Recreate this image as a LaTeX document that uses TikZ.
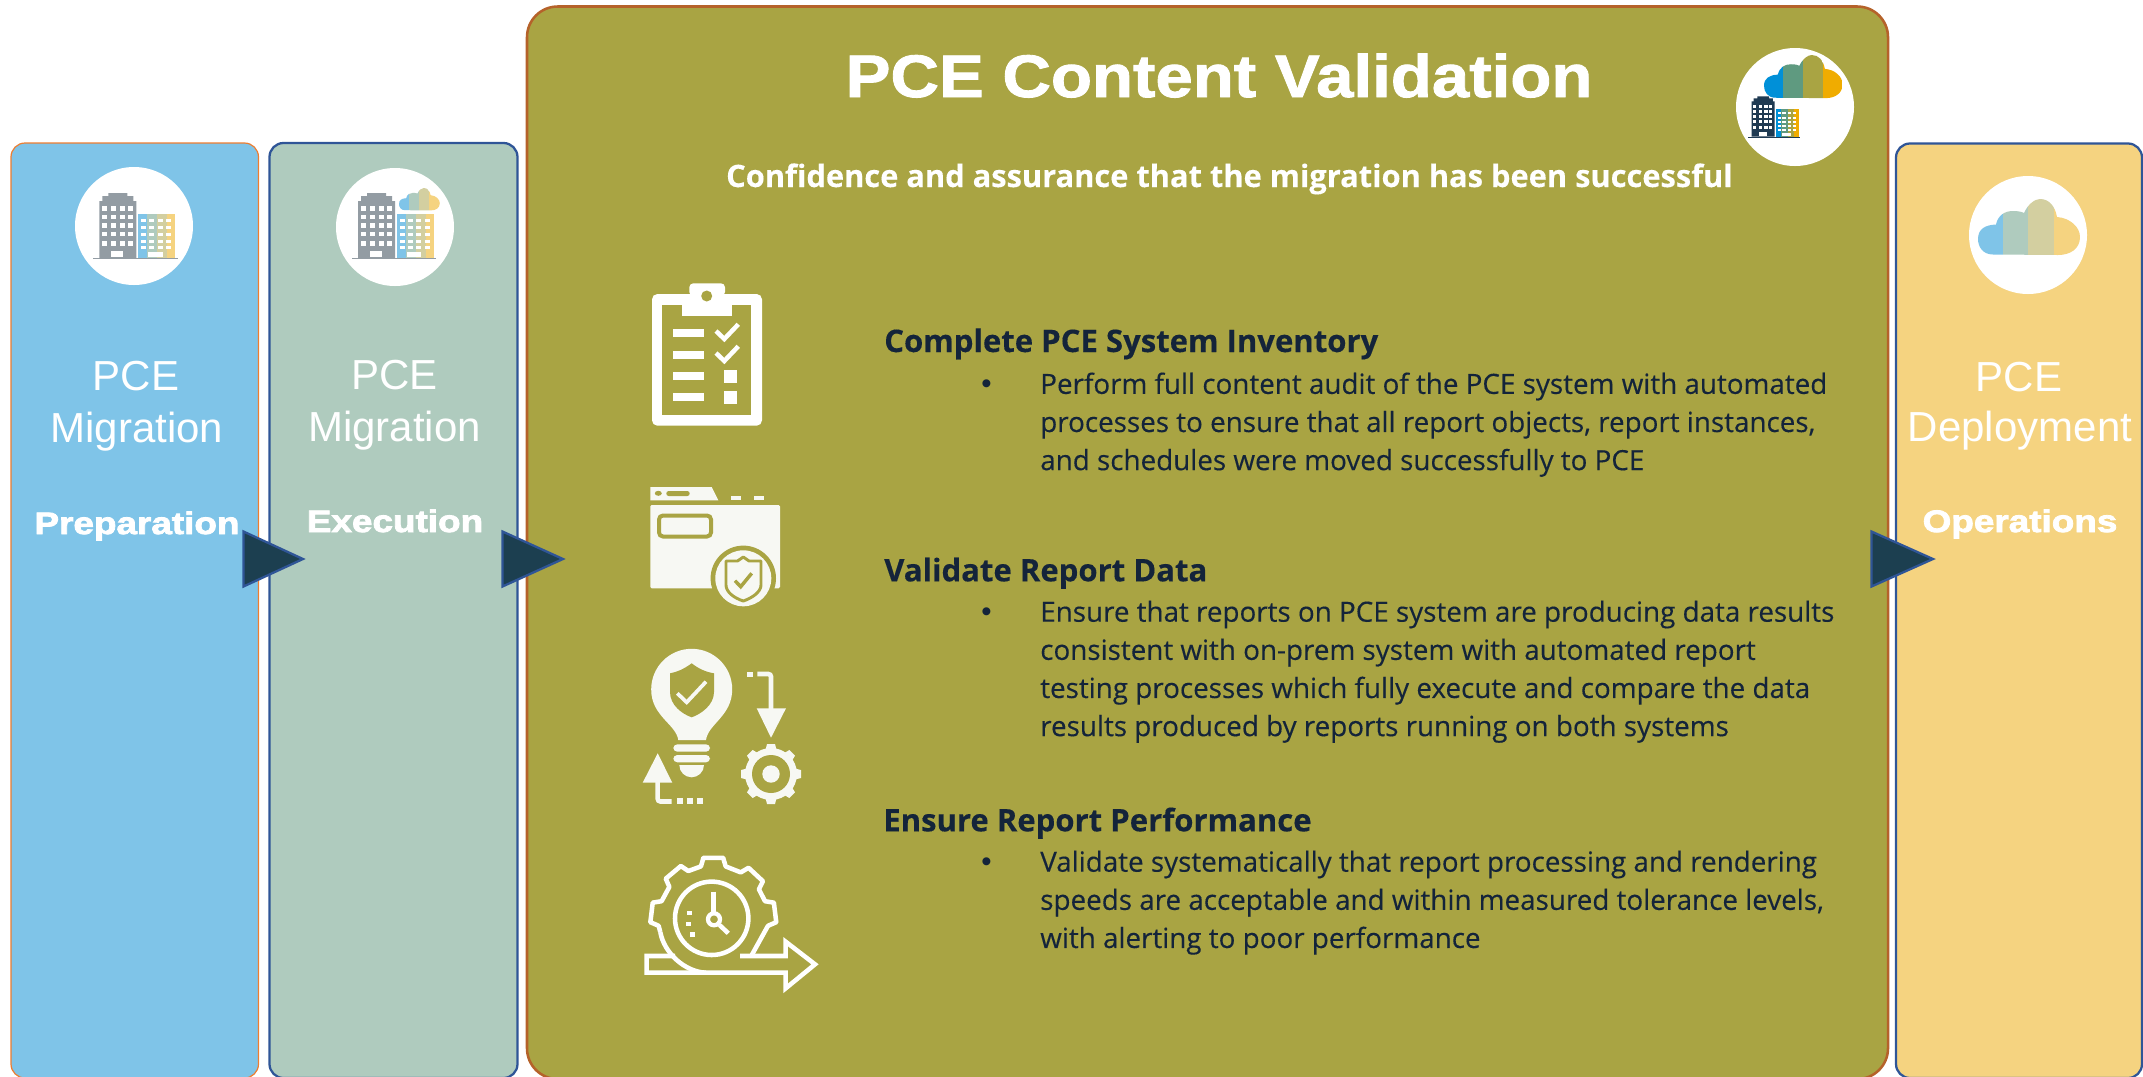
\documentclass[tikz,border=0pt]{standalone}
\usepackage{fontspec}
\usetikzlibrary{calc}
\setmainfont{Liberation Sans}
\newfontfamily\lblfont[BoldFeatures={FakeBold=2.6,FakeStretch=1.19}]{Liberation Sans}
\newfontfamily\ttlfont[BoldFeatures={FakeBold=1.5,FakeStretch=1.12}]{Liberation Sans}
\newfontfamily\bodyfont[FakeBold=0.25,BoldFeatures={FakeBold=0.25}]{Open Sans}
\definecolor{pblue}{HTML}{7FC4E8}
\definecolor{pgreen}{HTML}{AFCBBE}
\definecolor{polive}{HTML}{A9A443}
\definecolor{pyellow}{HTML}{F5D380}
\definecolor{pkhaki}{HTML}{D3CFA0}
\definecolor{lblue}{HTML}{2F5597}
\definecolor{lorange}{HTML}{ED7D31}
\definecolor{lrust}{HTML}{B5622A}
\definecolor{tricol}{HTML}{1C3F50}
\definecolor{navy}{HTML}{14243A}
\definecolor{bgray}{HTML}{939CA3}
\definecolor{bdark}{HTML}{1F3A52}
\definecolor{dblue}{HTML}{0090D8}
\definecolor{dgreen}{HTML}{5F9A80}
\definecolor{damber}{HTML}{F0AC00}
\definecolor{iconw}{HTML}{F7F8F3}
\tikzset{
  px/.style={x=0.75pt,y=-0.75pt},
  panel/.style={rounded corners=10.5pt},
  tri/.style={fill=tricol,draw=lblue,line width=1.7pt,line join=miter},
  disc/.style={fill=white,draw=none},
  pcetext/.style={text=white,inner sep=0pt,anchor=base,font=\fontsize{31.5}{38}\selectfont},
  lbltext/.style={text=white,inner sep=0pt,anchor=base,font=\lblfont\bfseries\fontsize{23.25}{28}\selectfont},
  headtext/.style={text=navy,inner sep=0pt,anchor=base west,font=\bodyfont\bfseries\fontsize{23.3}{28}\selectfont},
  bodytext/.style={text=navy,inner sep=0pt,anchor=north west,align=left,font=\bodyfont\fontsize{20.85}{28.6}\selectfont},
  bullettext/.style={text=navy,inner sep=0pt,anchor=base west,font=\fontsize{22}{28}\selectfont},
  iconline/.style={draw=white,line width=3.4pt,fill=none,line cap=butt,line join=miter},
}
\newcommand{\officeicon}[8]{%
 \begin{scope}[shift={(#1,#2)},scale=#3]
  \fill[#4] (0,0)--(0,-57)--(3,-57)--(3,-62)--(9,-62)--(9,-65)--(28,-65)--(28,-62)--(34,-62)--(34,-57)--(37,-57)--(37,0)--cycle;
  \foreach \wx in {5,14,23,31}\foreach \wy in {-49.3,-41,-32.3,-24,-14.7}
    \fill[white] (\wx-2.5,\wy-2.3) rectangle (\wx+2.5,\wy+2.3);
  \fill[white] (11.4,-7.3) rectangle (24,-0.7);
  \fill[#5] (38.6,-44) rectangle (47.9,0);
  \fill[#6] (47.9,-44) rectangle (57.9,0);
  \fill[#7] (57.9,-44) rectangle (67.5,0);
  \fill[#8] (67.5,-44) rectangle (75.7,0);
  \foreach \wx in {44.3,52.1,60.7,69.3}\foreach \wy in {-37.7,-30.7,-23.3,-17,-10.7}
    \fill[white] (\wx-2.5,\wy-1.5) rectangle (\wx+2.5,\wy+1.5);
  \fill[white] (48.9,-5.7) rectangle (63.2,-1);
  \fill[#4] (-6.4,0) rectangle (78.2,1.3);
 \end{scope}}
\newcommand{\cloudicon}[7]{%
 \begin{scope}[shift={(#1,#2)},scale=#3]
  \clip (15,55.5) .. controls (5,55.5) and (0,48) .. (0,40) .. controls (0,30) and (7,26) .. (18,25.5)
     .. controls (20,16) and (27,12) .. (35,12) .. controls (41,12) and (44,13) .. (46,14)
     .. controls (50,5) and (57,0) .. (62,0) .. controls (71,0) and (77,7) .. (79,18)
     .. controls (92,19) and (102,28) .. (102,38) .. controls (102,50) and (92,56) .. (80,56) -- cycle;
  \fill[#4] (-1,-1) rectangle (25,57);
  \fill[#5] (25,-1) rectangle (50,57);
  \fill[#6] (50,-1) rectangle (76,57);
  \fill[#7] (76,-1) rectangle (103,57);
 \end{scope}}
\begin{document}
\begin{tikzpicture}[px]
\useasboundingbox (0,0) rectangle (2143,1076);
\begin{scope}
\clip (0,0) rectangle (2143,1076);
\draw[panel,fill=pblue,draw=lorange,line width=0.9pt] (11,143) rectangle (258.5,1078);
\draw[panel,fill=pgreen,draw=lblue,line width=1.7pt] (269.5,143) rectangle (517.5,1078);
\draw[rounded corners=23pt,fill=polive,draw=lrust,line width=1.9pt] (527,6.5) rectangle (1888,1079);
\draw[panel,fill=pyellow,draw=lblue,line width=1.7pt] (1896,143.5) rectangle (2142,1078);
\end{scope}
% round badges
\fill[disc] (134,226) circle (59);
\fill[disc] (395,227) circle (59);
\fill[disc] (1795,107) circle (59);
\fill[disc] (2028,235) circle (59);
\officeicon{99.3}{258}{1}{bgray}{pblue}{pgreen}{pkhaki}{pyellow}
\officeicon{358.2}{258}{1}{bgray}{pblue}{pgreen}{pkhaki}{pyellow}
\cloudicon{399}{188}{0.4}{pblue}{pgreen}{pkhaki}{pyellow}
\officeicon{1751.7}{136.7}{0.62}{bdark}{dblue}{dgreen}{polive}{damber}
\cloudicon{1764}{55}{0.77}{dblue}{dgreen}{polive}{damber}
\cloudicon{1978}{199}{1}{pblue}{pgreen}{pkhaki}{pyellow}
% panel labels
\node[pcetext] (p1a) at (136,390) {PCE};
\node[pcetext] (p1b) at (137,442) {Migration};
\node[lbltext] (p1c) at (137,534) {Preparation};
\node[pcetext] (p2a) at (394.5,389) {PCE};
\node[pcetext] (p2b) at (394.5,441) {Migration};
\node[lbltext] (p2c) at (395,532) {Execution};
\node[pcetext] (p4a) at (2019,391) {PCE};
\node[pcetext] (p4b) at (2020,441) {Deployment};
\node[lbltext] (p4c) at (2020,532) {Operations};
% triangles
\draw[tri] (243.5,531.5)--(303,559)--(243.5,586.5)--cycle;
\draw[tri] (502.5,531.5)--(563,559)--(502.5,586.5)--cycle;
\draw[tri] (1871.5,531.5)--(1933,559)--(1871.5,586.5)--cycle;
% title
\node[text=white,inner sep=0pt,anchor=base,font=\ttlfont\bfseries\fontsize{45}{50}\selectfont] (title) at (1219,97) {PCE Content Validation};
\node[text=white,inner sep=0pt,anchor=base,font=\bodyfont\bfseries\fontsize{23.1}{30}\selectfont] (sub) at (1229.5,187) {Confidence and assurance that the migration has been successful};
% text blocks
\node[headtext] (h1) at (884,352) {Complete PCE System Inventory};
\node[bullettext] (b1t) at (981,393) {•};
\node[bodytext] (b1) at (1040,372.3) {Perform full content audit of the PCE system with automated\\processes to ensure that all report objects, report instances,\\and schedules were moved successfully to PCE};
\node[headtext] (h2) at (884,581.3) {Validate Report Data};
\node[bullettext] (b2t) at (981,621) {•};
\node[bodytext] (b2) at (1040,600.3) {Ensure that reports on PCE system are producing data results\\consistent with on-prem system with automated report\\testing processes which fully execute and compare the data\\results produced by reports running on both systems};
\node[headtext] (h3) at (883,831.3) {Ensure Report Performance};
\node[bullettext] (b3t) at (981,871) {•};
\node[bodytext] (b3) at (1040,850.3) {Validate systematically that report processing and rendering\\speeds are acceptable and within measured tolerance levels,\\with alerting to poor performance};
% clipboard icon
\fill[white,rounded corners=4pt] (652,294) rectangle (762,425.7);
\fill[polive] (662.3,304.7) rectangle (751.3,415.3);
\fill[white,rounded corners=3pt] (689.3,283.3) -- (725,283.3) -- (725,296) -- (689.3,296) -- cycle;
\fill[white] (682,304) rectangle (732,315.7);
\fill[white] (689.3,294) rectangle (725,305);
\fill[polive] (706.7,296) circle (5.5);
\foreach \ly in {329,351,372,393} \fill[white] (673,\ly) rectangle (704,\ly+8);
\foreach \cy in {0,22} \draw[white,line width=3.4pt] (716,331+\cy)--(724.3,339+\cy)--(738.3,324.3+\cy);
\foreach \sy in {370,391} \fill[white] (724,\sy) rectangle (737,\sy+13);
% folder icon
\fill[iconw] (650.3,487)--(711.7,487)--(718.3,500.3)--(650.3,500.3)--cycle;
\fill[polive] (658.3,493.3) ellipse (3.5 and 2.5);
\fill[polive,rounded corners=1.8pt] (666.3,491) rectangle (689.7,496);
\fill[iconw] (731.3,495.7) rectangle (740.7,500.3);
\fill[iconw] (754.3,495.7) rectangle (764,500.3);
\fill[iconw,rounded corners=1pt] (650.3,505) rectangle (780,588.3);
\draw[polive,line width=3pt,rounded corners=3pt] (659,515.5) rectangle (711,536.5);
\fill[polive] (743.3,578.3) circle (32.7);
\fill[iconw] (743.3,578.3) circle (28);
\draw[polive,line width=2.2pt,line join=round] (743.3,557) -- (749,561) -- (761,561) -- (761,585) .. controls (761,592) and (752,598) .. (743.3,601) .. controls (734,598) and (726,592) .. (726,585) -- (726,561) -- (737.5,561) -- cycle;
\draw[polive,line width=2.6pt] (735,580.7)--(740.7,586.7)--(751.7,573.3);
% bulb icon
\fill[iconw] (678.3,740) .. controls (676,724) and (651,716) .. (651.2,689.3) arc[start angle=180,end angle=360,radius=40.5] .. controls (732.2,716) and (708,724) .. (706,740) -- cycle;
\fill[polive] (691.7,663.3) .. controls (684,669) and (677,672) .. (670,673.3) -- (670,692) .. controls (670,705) and (682,714) .. (691.7,717.3) .. controls (701,714) and (714,705) .. (714,692) -- (714,673.3) .. controls (706,672) and (699,669) .. (691.7,663.3) -- cycle;
\draw[iconw,line width=2.8pt] (677.3,693.3)--(686.7,702.3)--(706,681.7);
\fill[iconw,rounded corners=3pt] (673.3,744.3) rectangle (710,751.7);
\fill[iconw,rounded corners=3pt] (673.3,755) rectangle (710,762.3);
\fill[iconw] (679.3,765) -- (704,765) .. controls (704,772) and (698,777.3) .. (691.7,777.3) .. controls (685,777.3) and (679.3,772) .. (679.3,765) -- cycle;
\fill[iconw] (746.7,671.7) rectangle (753.3,676.7);
\draw[iconw,line width=3.5pt,rounded corners=2pt] (757.3,674) -- (771,674) -- (771,712);
\fill[iconw] (756.7,708.3)--(786,708.3)--(771,737.7)--cycle;
\begin{scope}[shift={(771,774)}]
 \fill[iconw] (0,0) circle (26);
 \foreach \a in {0,45,...,315}
   \fill[iconw,rotate=\a] (-5.5,-24) -- (-4,-30) -- (4,-30) -- (5.5,-24) -- cycle;
 \fill[polive] (0,0) circle (19);
 \fill[iconw] (0,0) circle (8.7);
\end{scope}
\draw[iconw,line width=3.4pt,rounded corners=2pt] (657.7,780) -- (657.7,801.5) -- (671.7,801.5);
\fill[iconw] (657.7,753.3)--(642.7,782.7)--(672.3,782.7)--cycle;
\foreach \dx in {676.7,686.7,696.7} \fill[iconw] (\dx,798.3) rectangle (\dx+6.6,804.3);
% gear-clock icon
\begin{scope}[shift={(713.3,920)}]
 \draw[iconline,rounded corners=0.5pt] (-53,12) 
   \foreach \a in {173,130,90,47,7} {
     -- ({55*cos(\a+13)},{-55*sin(\a+13)})
     -- ({63*cos(\a+9)},{-63*sin(\a+9)})
     -- ({63*cos(\a-9)},{-63*sin(\a-9)})
     -- ({55*cos(\a-13)},{-55*sin(\a-13)})
   } -- (38.5,35);
\end{scope}
\draw[iconline] (675,956) -- (646.7,956) -- (646.7,972.7) -- (785.7,972.7) -- (785.7,988.3) -- (815,964.3) -- (785.7,941.7) -- (785.7,956) -- (740,956);
\draw[iconline] (660.3,932) .. controls (664,953) and (685,972) .. (706,972.7);
\draw[white,line width=3.4pt] (711.7,918.3) circle (36.7);
\draw[white,line width=3.4pt] (713.3,891.7) -- (713.3,913);
\draw[white,line width=3.2pt] (714,919.3) circle (6);
\draw[white,line width=3.4pt] (719.5,925) -- (728.3,933.3);
\fill[white] (687,910.5) rectangle (691.6,915);
\fill[white] (686,921.7) rectangle (690.6,926.3);
\fill[white] (690.4,932) rectangle (695,936.6);
\end{tikzpicture}
\end{document}
